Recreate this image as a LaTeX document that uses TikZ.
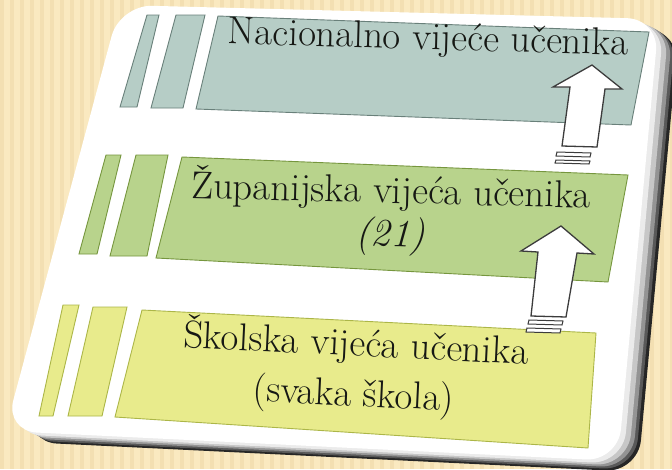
\documentclass[tikz,border=0pt]{standalone}
\usepackage{fontspec}
\definecolor{bgbeige}{RGB}{250,233,192}
\definecolor{bgstripe}{RGB}{243,223,178}
\definecolor{barA}{RGB}{182,205,198}
\definecolor{barAline}{RGB}{105,128,122}
\definecolor{barB}{RGB}{184,211,140}
\definecolor{barBline}{RGB}{118,150,62}
\definecolor{barC}{RGB}{232,235,140}
\definecolor{barCline}{RGB}{172,182,72}
\definecolor{arrline}{RGB}{60,60,60}
\definecolor{txtcol}{RGB}{22,24,20}
\begin{document}
\begin{tikzpicture}[x=1pt,y=-1pt,
  barAst/.style={fill=barA,draw=barAline,line width=0.9pt},
  barBst/.style={fill=barB,draw=barBline,line width=0.9pt},
  barCst/.style={fill=barC,draw=barCline,line width=0.9pt},
  blockarrow/.style={fill=white,draw=arrline,line width=1.3pt,line join=miter},
  arrstripe/.style={fill=white,draw=arrline,line width=1pt},
  txt/.style={anchor=base,inner sep=0pt,align=center,text=txtcol,font=\rmfamily\fontsize{38.8}{44}\selectfont},
  cardround/.style={rounded corners=32pt}]
\useasboundingbox (0,0) rectangle (672,469);
% background
\fill[bgbeige] (0,0) rectangle (672,469);
\foreach \i in {0,...,67} {\fill[bgstripe] (\i*10,0) rectangle ++(4,469);}
% bevel shadow
\foreach \dx/\dy/\c in {20/11/85,17/9/65,14/7/42,10/5/22,5/3/8} {
  \fill[black!\c,cardround,shift={(\dx,\dy)}] (120,5) -- (659,19) -- (618,461) -- (5,431) -- cycle;
}
% card
\fill[white,cardround] (120,5) -- (659,19) -- (618,461) -- (5,431) -- cycle;
\begin{scope}
\clip[cardround] (120,5) -- (659,19) -- (618,461) -- (5,431) -- cycle;
% top bar
\draw[barAst] (147,15) -- (159,15) -- (137,107) -- (120,107) -- cycle;
\draw[barAst] (176,15) -- (205,15) -- (183,108) -- (151,108) -- cycle;
\draw[barAst] (218,16) -- (649,32) -- (631,125) -- (196,109) -- cycle;
% middle bar
\draw[barBst] (106,155) -- (121,155) -- (97,254) -- (79,254) -- cycle;
\draw[barBst] (136,155) -- (168,155) -- (147,256) -- (110,256) -- cycle;
\draw[barBst] (182,157) -- (628,175) -- (608,282) -- (156,258) -- cycle;
% bottom bar
\draw[barCst] (63,305) -- (79,305) -- (53,416) -- (39,416) -- cycle;
\draw[barCst] (93,307) -- (127,307) -- (102,416) -- (68,416) -- cycle;
\draw[barCst] (142,310) -- (596,333) -- (588,448) -- (115,417) -- cycle;
\end{scope}
% arrows
\draw[blockarrow] (592,65) -- (622,89) -- (605,89) -- (597,147) -- (562,146) -- (570,87) -- (553,87) -- cycle;
\draw[arrstripe] (557,152) -- (591,153) -- (590,157) -- (556,156) -- cycle;
\draw[arrstripe] (556,160) -- (590,161) -- (589,164) -- (555,163) -- cycle;
\draw[blockarrow] (561,226) -- (594,254) -- (577,253) -- (566,317) -- (531,316) -- (538,252) -- (521,251) -- cycle;
\draw[arrstripe] (529,320) -- (563,321) -- (562,325) -- (528,324) -- cycle;
\draw[arrstripe] (527,328) -- (561,329) -- (560,333) -- (526,332) -- cycle;
% texts
\node[txt,rotate=-1.4] (zup) at (390,246) {Županijska vijeća učenika\\[-1pt]{\itshape (21)}};
\node[txt,rotate=-1.6] (nac) at (428,49.5) {Nacionalno vijeće učenika};
\node[txt,rotate=-2.8] (sko) at (353,406) {Školska vijeća učenika\\[6pt](svaka škola)};
\end{tikzpicture}
\end{document}
